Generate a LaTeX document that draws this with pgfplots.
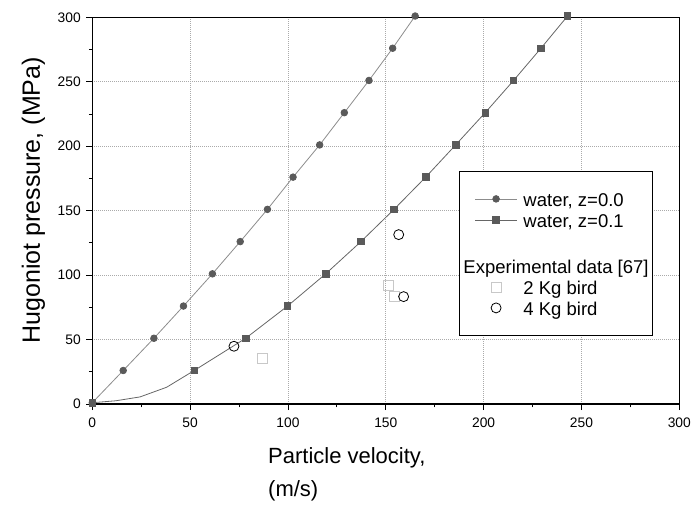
\documentclass[border=0pt]{standalone}
\usepackage{pgfplots}
\pgfplotsset{compat=1.18}
\usepackage{fontspec}
\setmainfont{Liberation Sans}
\definecolor{mk}{HTML}{5A5A5A}
\definecolor{lnA}{HTML}{8C8C8C}
\definecolor{lnB}{HTML}{666666}
\definecolor{exA}{HTML}{C8C8C8}
\definecolor{gridc}{HTML}{AAAAAA}
\pgfplotsset{myleg/.style={legend image code/.code={\draw[##1,mark indices={2}] plot coordinates {(0pt,0pt)(21pt,0pt)(42pt,0pt)};}}}
\begin{document}
\begin{tikzpicture}
\begin{axis}[
 at={(0,0)}, anchor=south west,
 scale only axis, width=587pt, height=386.7pt,
 xmin=0,xmax=300,ymin=0,ymax=300,
 xtick={0,50,...,300}, ytick={0,50,...,300},
 minor xtick={25,75,...,275}, minor ytick={25,75,...,275},
 xtick pos=bottom, ytick pos=left, tick align=outside,
 major tick length=6pt, minor tick length=3.3pt,
 every tick/.style={black, line width=0.8pt},
 axis line style={line width=1.2pt},
 grid=major, major grid style={gridc, dash pattern=on 1pt off 1pt, line width=0.7pt},
 tick label style={font=\fontsize{13.8}{16}\selectfont},
 xticklabel style={yshift=-4pt},
 yticklabel style={xshift=-2pt},
 /pgf/number format/assume math mode=true,
 clip=false,
 xlabel={Particle velocity,\\(m/s)},
 xlabel style={at={(axis description cs:0.2993,-0.111)}, anchor=north west, align=left, inner sep=0pt, font=\fontsize{22}{33}\selectfont},
 ylabel={Hugoniot pressure, (MPa)},
 ylabel style={at={(axis description cs:-0.0891,0.527)}, anchor=base, font=\fontsize{25}{28}\selectfont},
 legend cell align=left,
 legend style={at={(axis description cs:0.6252,0.6025)}, anchor=north west, draw=black, line width=0.8pt,
   font=\fontsize{18.5}{22}\selectfont, inner xsep=15pt, inner ysep=17pt, column sep=4pt,
   nodes={inner sep=2pt, text height=16.5pt, text depth=0.5pt}},
]
\addplot[myleg, lnA, line width=0.8pt, mark=*, mark size=3.3pt, mark options={fill=mk, draw=mk, solid}]
 coordinates {(0,1)(15.8,26)(31.5,51)(46.6,76)(61.4,101)(75.6,126)(89.5,151)(102.6,176)(116.2,201)(128.8,226)(141.4,251)(153.5,276)(165,301)};
\addlegendentry{water, z=0.0}
\addplot[myleg, lnB, line width=0.8pt, mark=square*, mark size=3.3pt, mark options={fill=mk, draw=mk, solid},
 mark indices={1,5,6,7,8,9,10,11,12,13,14,15,16}]
 coordinates {(0,1)(12,2.5)(24.4,5.5)(38,13)(52.1,26)(78.4,51)(99.8,76)(119.3,101)(137.3,126)(154.2,151)(170.4,176)(185.7,201)(200.8,226)(215.3,251)(229.3,276)(242.9,301)};
\addlegendentry{water, z=0.1}
\addlegendimage{empty legend}
\addlegendentry[text height=20.5pt]{}
\addlegendimage{empty legend}
\addlegendentry{\hspace*{-60pt}Experimental data [67]\hspace*{-13pt}}
\addplot[myleg, only marks, mark=square, mark size=5pt, mark options={draw=exA, fill=white, line width=0.8pt}]
 coordinates {(86.9,35.2)(151.4,92.1)(154.3,83.3)};
\addlegendentry{2 Kg bird}
\addplot[myleg, only marks, mark=o, mark size=5pt, mark options={draw=black, fill=white, line width=0.8pt}]
 coordinates {(72.4,44.8)(156.6,131.4)(159.1,83.3)};
\addlegendentry{4 Kg bird}
\end{axis}
\pgfresetboundingbox
\path[use as bounding box] (-92.3pt,-102pt) rectangle (601.7pt,404pt);
\end{tikzpicture}
\end{document}
